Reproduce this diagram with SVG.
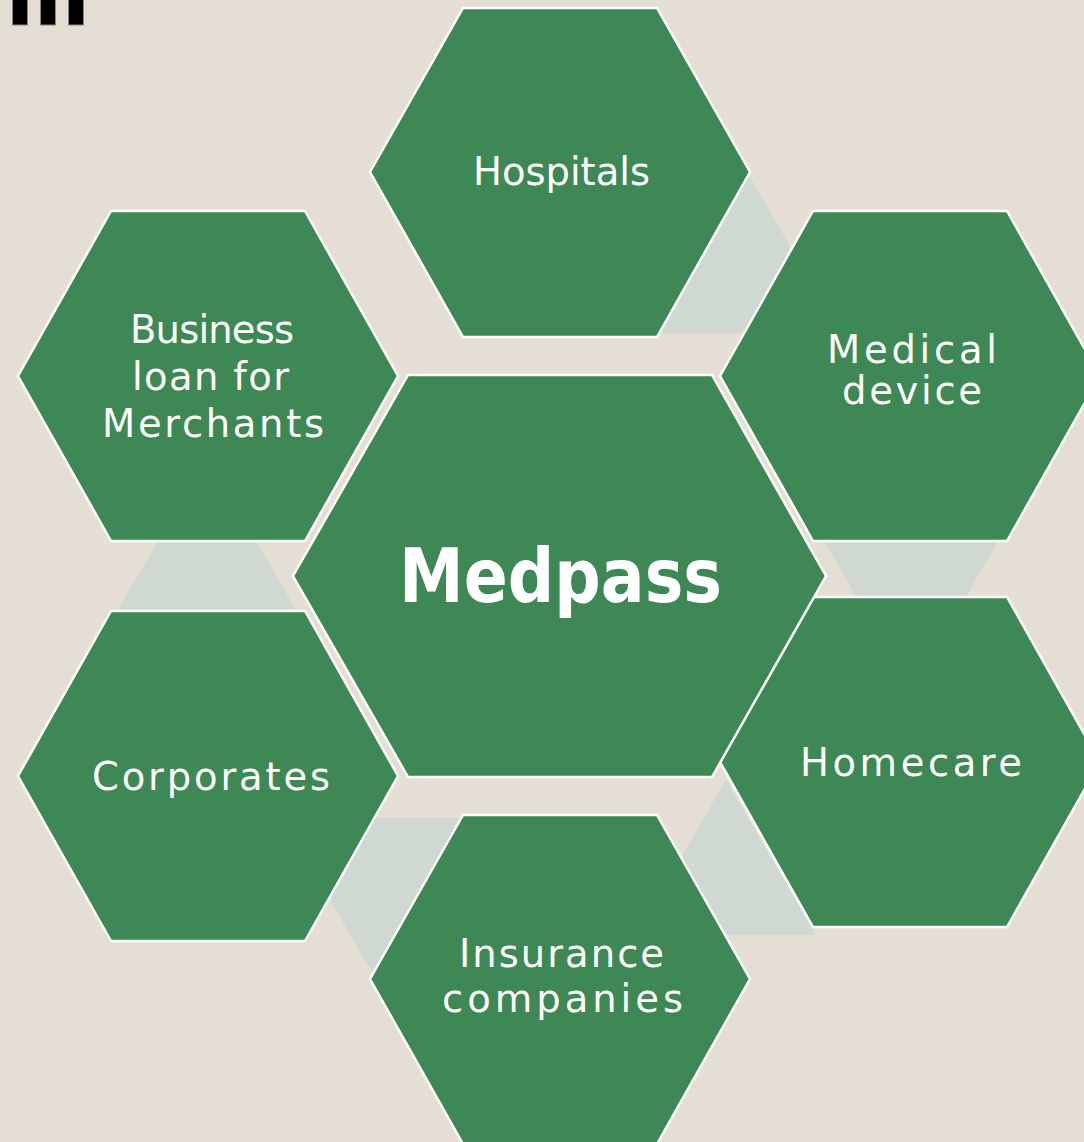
<svg xmlns="http://www.w3.org/2000/svg" width="1084" height="1142" viewBox="0 0 1084 1142">
<style>
.hex{fill:#3d8854;stroke:#ffffff;stroke-width:2.5;stroke-linejoin:miter}
.tri{fill:#cfd9d2;stroke:none}
.lbl{fill:#ffffff;font-family:"DejaVu Sans","Verdana",sans-serif;font-size:38.5px}
.big{fill:#ffffff;font-family:"DejaVu Sans","Verdana",sans-serif;font-size:75px;font-weight:bold}
.bar{fill:#000000;stroke:#8c8a82;stroke-width:1}
</style>
<rect x="0" y="0" width="1084" height="1142" fill="#e4ded4"/>
<g id="corner-bars">
<rect class="bar" x="12.5" y="-1" width="15" height="26"/>
<rect class="bar" x="40.5" y="-1" width="15" height="26"/>
<rect class="bar" x="68.5" y="-1" width="15" height="26"/>
</g>
<g id="connectors">
<polygon class="tri" points="747,172 840,333 654,333"/>
<polygon class="tri" points="820,534 1002,534 911,692"/>
<polygon class="tri" points="207,456 300,617 114,617"/>
<polygon class="tri" points="283,818 469,818 376,979"/>
<polygon class="tri" points="726,780 816,935 636,935"/>
</g>
<g id="node-hospitals">
<polygon class="hex" points="370,172 463,8 657,8 750,172 657,337 463,337"/>
<text class="lbl" x="473" y="185" textLength="177">Hospitals</text>
</g>
<g id="node-business-loan">
<polygon class="hex" points="18,376 111,211 305,211 398,376 305,541 111,541"/>
<text class="lbl" x="130" y="343" textLength="164">Business</text>
<text class="lbl" x="132" y="390" textLength="157">loan for</text>
<text class="lbl" x="102" y="437" textLength="222">Merchants</text>
</g>
<g id="node-medical-device">
<polygon class="hex" points="720,376 813,211 1007,211 1100,376 1007,541 813,541"/>
<text class="lbl" x="827" y="363" textLength="170">Medical</text>
<text class="lbl" x="842" y="404" textLength="140">device</text>
</g>
<g id="node-corporates">
<polygon class="hex" points="18,776 111,611 305,611 398,776 305,941 111,941"/>
<text class="lbl" x="92" y="790" textLength="238">Corporates</text>
</g>
<g id="node-homecare">
<polygon class="hex" points="720,762 813,597 1007,597 1100,762 1007,927 813,927"/>
<text class="lbl" x="800" y="776" textLength="222">Homecare</text>
</g>
<g id="node-insurance">
<polygon class="hex" points="370,979 463,815 657,815 750,979 657,1144 463,1144"/>
<text class="lbl" x="459" y="967" textLength="205">Insurance</text>
<text class="lbl" x="442" y="1012" textLength="241">companies</text>
</g>
<g id="node-medpass">
<polygon class="hex" points="293,576 408,375 712,375 826,576 712,777 408,777"/>
<text class="big" x="399" y="602" textLength="323" lengthAdjust="spacingAndGlyphs">Medpass</text>
</g>
</svg>
